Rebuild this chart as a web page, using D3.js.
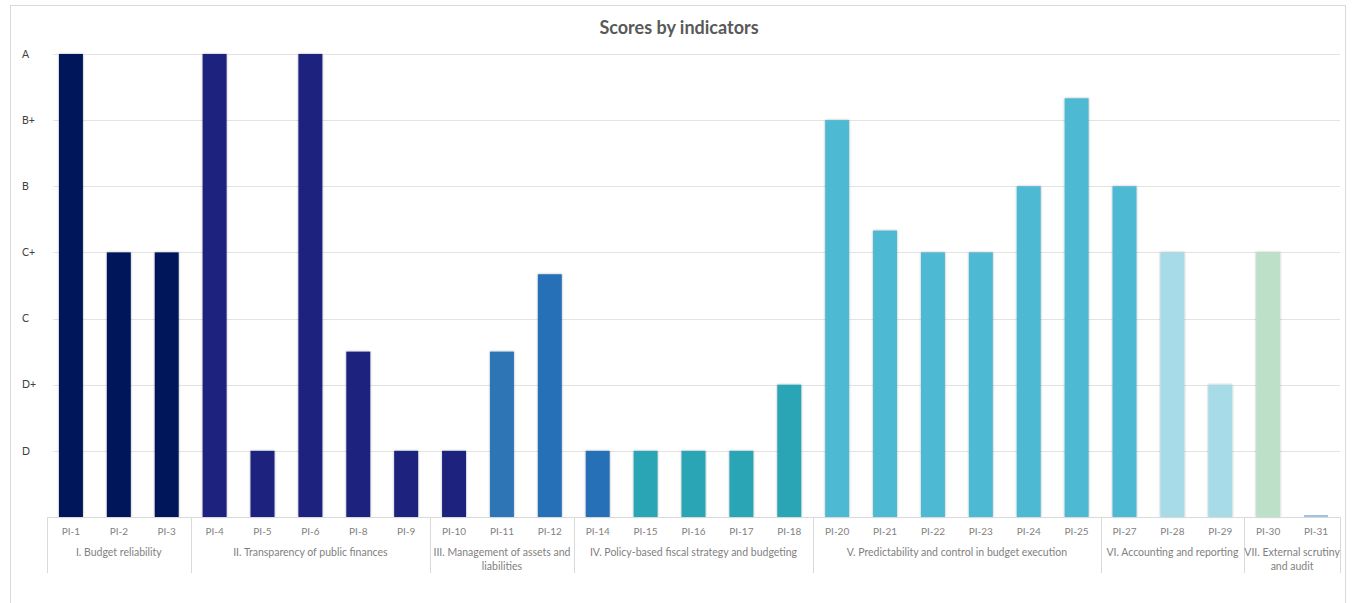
<!DOCTYPE html>
<html>
<head>
<meta charset="utf-8">
<script src="https://cdn.jsdelivr.net/npm/d3@7"></script>
<style>
  body { margin: 0; background: #fff; font-family: Lato, "Open Sans", sans-serif; }
  .grid line { stroke: #e3e3e3; }
  .ylab { fill: #404040; font-size: 10.5px; }
  .xlab { fill: #7f7f7f; font-size: 10px; }
  .glab { fill: #7f7f7f; font-size: 10.5px; }
</style>
</head>
<body>
<svg id="chart"></svg>
<script>
var viewWidth = 1353;
var viewHeight = 603;

// chart data
var indicators = ["PI-1","PI-2","PI-3","PI-4","PI-5","PI-6","PI-8","PI-9","PI-10","PI-11","PI-12",
  "PI-14","PI-15","PI-16","PI-17","PI-18","PI-20","PI-21","PI-22","PI-23","PI-24","PI-25",
  "PI-27","PI-28","PI-29","PI-30","PI-31"];
var scores = [7, 4, 4, 7, 1, 7, 2.5, 1, 1, 2.5, 3.67,
  1, 1, 1, 1, 2, 6, 4.33, 4, 4, 5, 6.33,
  5, 4, 2, 4, 0.03];
var groups = [
  ["I. Budget reliability"],
  ["II. Transparency of public finances"],
  ["III. Management of assets and", "liabilities"],
  ["IV. Policy-based fiscal strategy and budgeting"],
  ["V. Predictability and control in budget execution"],
  ["VI. Accounting and reporting"],
  ["VII. External scrutiny", "and audit"]
];
var groupSizes = [3, 5, 3, 5, 6, 3, 2];
var gradeLabels = ["D", "D+", "C", "C+", "B", "B+", "A"];
var gradeValues = [1, 2, 3, 4, 5, 6, 7];

// one colour per bar
var barColors = ["#00185a","#00185a","#00185a",
  "#1b237e","#1b237e","#1b237e","#1b237e","#1b237e",
  "#1b237e","#2e75b6","#2870b8",
  "#2870b8","#2ba5b5","#2ba5b5","#2ba5b5","#2ba5b5",
  "#4db9d2","#4db9d2","#4db9d2","#4db9d2","#4db9d2","#4db9d2",
  "#4db9d2","#a6dbe7","#a6dbe7",
  "#bde0c9","#9dc3e6"];

var margin = {top: 54, right: 13, bottom: 86, left: 47};
var width = viewWidth - margin.left - margin.right;
var height = viewHeight - margin.top - margin.bottom;

var svg = d3.select("#chart")
    .attr("width", viewWidth)
    .attr("height", viewHeight);

var defs = svg.append("defs");
var shadow = defs.append("filter").attr("id", "shadow")
    .attr("x", "-30%").attr("y", "-5%").attr("width", "160%").attr("height", "110%");
shadow.append("feDropShadow")
    .attr("dx", 0).attr("dy", 0).attr("stdDeviation", 1.2)
    .attr("flood-color", "#000").attr("flood-opacity", 0.35);

// outer frame
svg.append("rect")
    .attr("x", 10.5).attr("y", 5.5)
    .attr("width", 1335).attr("height", 610)
    .attr("fill", "none").attr("stroke", "#d9d9d9");

svg.append("text")
    .attr("x", 679).attr("y", 34)
    .attr("text-anchor", "middle")
    .style("font-size", "18px").style("font-weight", "bold")
    .style("fill", "#595959")
    .text("Scores by indicators");

var g = svg.append("g")
    .attr("transform", "translate(" + margin.left + "," + margin.top + ")");

var x = d3.scaleBand()
    .domain(indicators)
    .range([0, width])
    .paddingInner(0.5)
    .paddingOuter(0.25);

var y = d3.scaleLinear()
    .domain([0, 7])
    .range([height, 0]);

// gridlines
g.append("g").attr("class", "grid")
  .selectAll("line")
  .data(gradeValues)
  .enter().append("line")
    .attr("x1", 6).attr("x2", width)
    .attr("y1", function(d) { return Math.round(y(d)) + 0.5; })
    .attr("y2", function(d) { return Math.round(y(d)) + 0.5; });

// y labels
g.selectAll(".ylab")
  .data(gradeValues)
  .enter().append("text")
    .attr("class", "ylab")
    .attr("x", -25)
    .attr("y", function(d) { return y(d); })
    .attr("dy", "0.35em")
    .text(function(d, i) { return gradeLabels[i]; });

// bars
g.selectAll(".bar")
  .data(scores)
  .enter().append("rect")
    .attr("class", "bar")
    .attr("x", function(d, i) { return x(indicators[i]); })
    .attr("width", x.bandwidth())
    .attr("y", function(d) { return y(d); })
    .attr("height", function(d) { return height - y(d); })
    .attr("fill", function(d, i) { return barColors[i]; })
    .attr("filter", function(d) { return d > 0.5 ? "url(#shadow)" : null; });

// baseline
g.append("line")
    .attr("x1", 0).attr("x2", width)
    .attr("y1", height + 0.5).attr("y2", height + 0.5)
    .attr("stroke", "#d9d9d9");

// indicator labels
g.selectAll(".xlab")
  .data(indicators)
  .enter().append("text")
    .attr("class", "xlab")
    .attr("x", function(d) { return x(d) + x.bandwidth() / 2; })
    .attr("y", height + 18)
    .attr("text-anchor", "middle")
    .text(function(d) { return d; });

// group separators and labels
var step = x.step();
var start = 0;
var bounds = [0];
groupSizes.forEach(function(n) { start += n; bounds.push(start); });

g.selectAll(".sep")
  .data(bounds)
  .enter().append("line")
    .attr("class", "sep")
    .attr("x1", function(d) { return Math.round(d * step) + 0.5; })
    .attr("x2", function(d) { return Math.round(d * step) + 0.5; })
    .attr("y1", height)
    .attr("y2", height + 56)
    .attr("stroke", "#d9d9d9");

groups.forEach(function(lines, i) {
  var cx = (bounds[i] + bounds[i + 1]) / 2 * step;
  var t = g.append("text")
    .attr("class", "glab")
    .attr("x", cx)
    .attr("y", height + 39)
    .attr("text-anchor", "middle");
  lines.forEach(function(line, j) {
    t.append("tspan")
      .attr("x", cx)
      .attr("dy", j == 0 ? 0 : 14)
      .text(line);
  });
});
</script>
</body>
</html>
